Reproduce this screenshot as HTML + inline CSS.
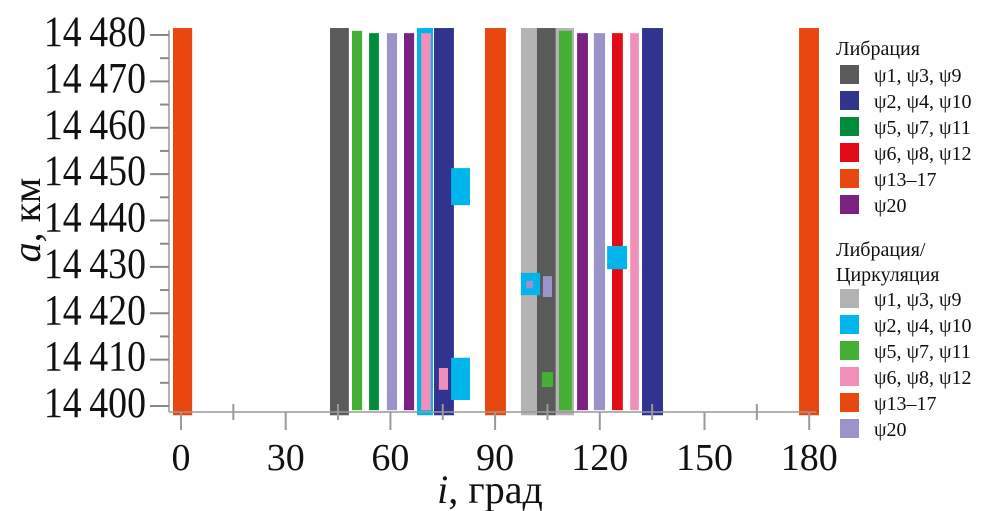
<!DOCTYPE html>
<html><head><meta charset="utf-8"><style>
body{margin:0;background:#fff;}
svg{display:block;}
text{font-family:"Liberation Serif",serif;fill:#111;}
</style></head><body>
<svg id="chart" width="1003" height="511">
<g id="bars"></g>
<g id="axes"></g>
<g id="legend"></g>
</svg>
<script>
// data: [i0, i1, a0, a1, colorKey]
const barStart = [-2.3, 42.7, 49.0, 53.9, 59.0, 63.9, 67.6, 68.8, 72.5, 77.4, 77.4, 73.9, 87.1, 97.4, 102.0, 107.4, 108.3, 113.5, 118.3, 123.5, 128.7, 132.1, 122.1, 97.4, 98.9, 103.7, 103.4, 177.1];
const barEnd   = [3.2, 48.1, 51.9, 56.7, 61.9, 66.8, 72.2, 71.6, 78.2, 82.8, 82.8, 76.5, 93.1, 102.3, 107.4, 112.6, 112.0, 116.6, 121.5, 126.6, 131.2, 138.1, 127.8, 102.9, 100.9, 106.3, 106.6, 182.8];
const barTop   = [14481.5, 14481.5, 14480.9, 14480.4, 14480.4, 14480.4, 14481.5, 14480.4, 14481.5, 14451.3, 14410.4, 14408.2, 14481.5, 14481.5, 14481.5, 14481.5, 14480.9, 14480.4, 14480.4, 14480.4, 14480.4, 14481.5, 14434.5, 14428.7, 14427.0, 14428.0, 14407.3, 14481.5];
const barBot   = [14398, 14398, 14399.1, 14399.1, 14399.1, 14399.1, 14398, 14399.1, 14398, 14443.3, 14401.3, 14403.5, 14398, 14398, 14398, 14398, 14399.1, 14399.1, 14399.1, 14399.1, 14399.1, 14398, 14429.5, 14423.9, 14425.4, 14423.5, 14404.1, 14398];
const barColor = ['or','dg','lg','gr','lv','pu','cy','pk','nv','cy','cy','pk','or','lgr','dg','lgr','lg','pu','lv','rd','pk','nv','cy','cy','lv','lv','lg','or'];
const xTicks = [0,30,60,90,120,150,180];
const yTicks = [14400,14410,14420,14430,14440,14450,14460,14470,14480];
const legend1 = [['dg','ψ1, ψ3, ψ9'],['nv','ψ2, ψ4, ψ10'],['gr','ψ5, ψ7, ψ11'],['rd','ψ6, ψ8, ψ12'],['or','ψ13–17'],['pu','ψ20']];
const legend2 = [['lgr','ψ1, ψ3, ψ9'],['cy','ψ2, ψ4, ψ10'],['lg','ψ5, ψ7, ψ11'],['pk','ψ6, ψ8, ψ12'],['or','ψ13–17'],['lv','ψ20']];

const C={dg:'#5a5a5a',lgr:'#b3b3b3',nv:'#30348f',cy:'#00b5ec',gr:'#008c3a',lg:'#45b035',rd:'#e30b17',pk:'#f08fb9',or:'#e84810',pu:'#7a2182',lv:'#9a94c8'};
const NS='http://www.w3.org/2000/svg';
const X=d=>181+d*3.49;
const Y=a=>406-(a-14400)*4.6375;
function mk(tag,attrs,parent){const e=document.createElementNS(NS,tag);for(const k in attrs)e.setAttribute(k,attrs[k]);parent.appendChild(e);return e;}
const gb=document.getElementById('bars'),ga=document.getElementById('axes'),gl=document.getElementById('legend');
for(let i=0;i<barStart.length;i++){
  const r=mk('rect',{x:X(barStart[i]),y:Y(barTop[i]),width:X(barEnd[i])-X(barStart[i]),height:Y(barBot[i])-Y(barTop[i]),fill:C[barColor[i]]},gb);
  
  
}
// axes
mk('line',{x1:169,y1:Y(14481),x2:169,y2:412,stroke:'#999','stroke-width':1.5},ga);
mk('line',{x1:169,y1:412,x2:X(182),y2:412,stroke:'#999','stroke-width':1.5},ga);
for(let a=14400;a<=14480;a+=5){
  const maj=a%10===0;
  mk('line',{x1:maj?150:160,y1:Y(a),x2:169,y2:Y(a),stroke:'#888','stroke-width':2},ga);
}
yTicks.forEach(a=>{
  const t=mk('text',{x:0,y:0,'text-anchor':'end','font-size':43,transform:'translate(146,'+(Y(a)+11)+') scale(0.88,1)'},ga);
  t.textContent=String(a).slice(0,2)+'\u2009'+String(a).slice(2);
  
  
});
for(let d=0;d<=180;d+=15){
  const maj=d%30===0;
  mk('line',{x1:X(d),y1:maj?412:404,x2:X(d),y2:maj?430:420,stroke:'#999','stroke-width':2},ga);
}
xTicks.forEach(d=>{
  const t=mk('text',{x:X(d),y:470,'text-anchor':'middle','font-size':38},ga);
  t.textContent=d;
  
  
});
const xt=mk('text',{x:490,y:503,'text-anchor':'middle','font-size':40},ga);
xt.innerHTML='<tspan font-style="italic">i</tspan>, град';


const yt=mk('text',{x:0,y:0,'text-anchor':'middle','font-size':40,transform:'translate(40,220) rotate(-90)'},ga);
yt.innerHTML='<tspan font-style="italic">a</tspan>, км';


// legend
function title(txt,y){const t=mk('text',{x:836,y:y,'font-size':20},gl);t.textContent=txt;
  
  }
function entries(list,y0){list.forEach((e,i)=>{const y=y0+i*26;
  const s=mk('rect',{x:840,y:y-17,width:19,height:19,fill:C[e[0]]},gl);
  
  
  const t=mk('text',{x:874,y:y,'font-size':20},gl);t.textContent=e[1];
  
  
});}
title('Либрация',55);entries(legend1,82);
title('Либрация/',256);title('Циркуляция',281);entries(legend2,306);
</script>
</body></html>
